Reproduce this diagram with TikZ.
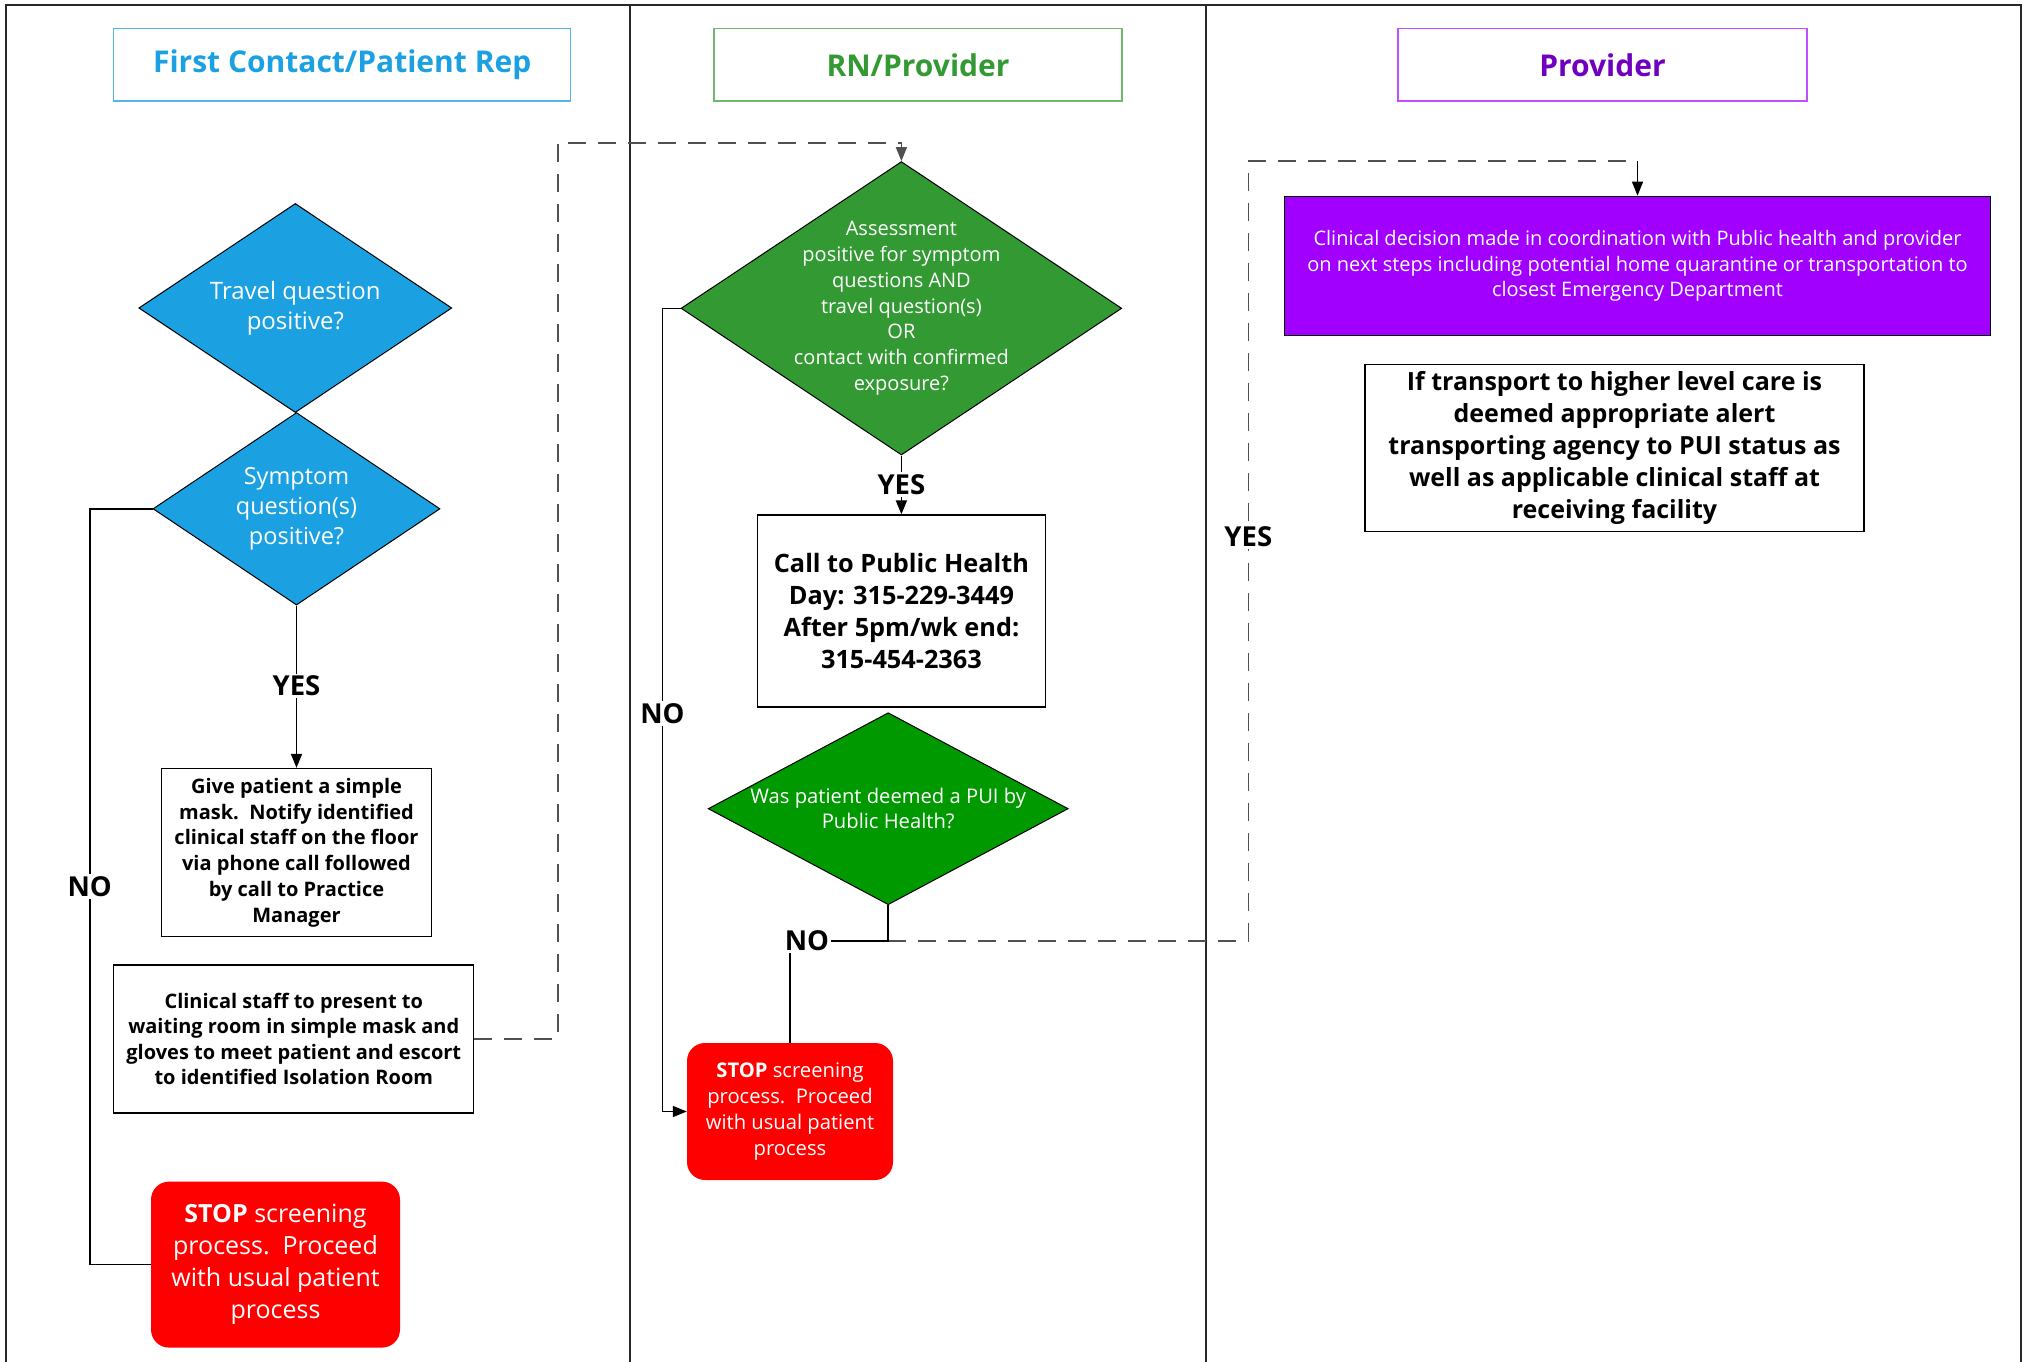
\documentclass[tikz,border=0pt]{standalone}
\usepackage{fontspec}
\setmainfont{Open Sans}
\usetikzlibrary{shapes.geometric,arrows.meta}
\definecolor{lblue}{RGB}{27,161,226}
\definecolor{lblueb}{RGB}{85,180,235}
\definecolor{dgreen}{RGB}{51,153,51}
\definecolor{dgreenb}{RGB}{110,185,110}
\definecolor{pgreen}{RGB}{0,153,0}
\definecolor{purp}{RGB}{161,0,255}
\definecolor{purpt}{RGB}{112,0,192}
\definecolor{purpb}{RGB}{192,80,255}
\definecolor{stopred}{RGB}{255,0,0}
\definecolor{dashgray}{RGB}{80,80,80}
\definecolor{framec}{RGB}{40,40,40}
\tikzset{
  hdr/.style={draw, line width=1.5pt, minimum height=72.4pt, inner sep=0pt,
    font=\bfseries\fontsize{30}{34}\selectfont},
  dia/.style={diamond, draw=black, line width=1pt, inner sep=0pt},
  dtext/.style={text=white, align=center, inner sep=0pt},
  box/.style={draw=black, line width=1.3pt, fill=white, inner sep=0pt, align=center},
  stopbox/.style={fill=stopred, rounded corners=18pt, inner sep=0pt, align=center,
    text=white},
  conn/.style={line width=1.6pt, black},
  dconn/.style={line width=1.6pt, dashgray, dash pattern=on 18pt off 12pt},
  arr/.style={-{Triangle[length=14pt,width=11pt]}},
  lbl/.style={fill=white, inner sep=2pt, font=\bfseries\fontsize{27.5}{30}\selectfont},
  lane/.style={line width=1.8pt, framec}
}
\begin{document}
\begin{tikzpicture}[x=1pt,y=-1pt]
\useasboundingbox (0,0) rectangle (2023,1362);
% frame and lanes
\draw[lane] (6,1362) -- (6,5) -- (2021,5) -- (2021,1362);
\draw[lane] (630,5) -- (630,1362);
\draw[lane] (1206,5) -- (1206,1362);

% headers
\node[hdr, draw=lblueb, text=lblue, minimum width=457pt] (h1) at (342.2,64.8) {First Contact/Patient Rep};
\node[hdr, draw=dgreenb, text=dgreen, minimum width=408pt] (h2) at (918,64.8) {RN/Provider};
\node[hdr, draw=purpb, text=purpt, minimum width=409pt] (h3) at (1602.5,64.8) {Provider};

% lane 1
\node[dia, fill=lblue, minimum width=313pt, minimum height=209pt] (travel) at (295.3,308) {};
\node[dtext, font=\fontsize{24}{30}\selectfont] (travelt) at (travel.center) {Travel question\\positive?};
\node[dia, fill=lblue, minimum width=287pt, minimum height=192.5pt] (sym) at (296.5,508.8) {};
\node[dtext, font=\fontsize{23.5}{30.3}\selectfont] (symt) at (sym.center) {Symptom\\question(s)\\positive?};
\node[box, minimum width=270pt, minimum height=168pt, font=\bfseries\fontsize{20}{25.8}\selectfont] (give) at (296.5,852.5)
  {Give patient a simple\\mask.\ \ Notify identified\\clinical staff on the floor\\via phone call followed\\by call to Practice\\Manager};
\node[box, minimum width=360pt, minimum height=148pt, font=\bfseries\fontsize{20}{25.3}\selectfont] (clin) at (293.8,1039)
  {Clinical staff to present to\\waiting room in simple mask and\\gloves to meet patient and escort\\to identified Isolation Room};
\node[stopbox, minimum width=249pt, minimum height=166pt, font=\fontsize{25}{32}\selectfont] (stop1) at (275.5,1264.6)
  {\textbf{STOP} screening\\process.\ \ Proceed\\with usual patient\\process};

% lane 2
\node[dia, fill=dgreen, minimum width=440.7pt, minimum height=293.4pt] (assess) at (901.4,308.3) {};
\node[dtext, font=\fontsize{20}{25.8}\selectfont] (assesst) at (assess.center)
  {Assessment\\positive for symptom\\questions AND\\travel question(s)\\OR\\contact with confirmed\\exposure?};
\node[box, minimum width=288pt, minimum height=192pt, font=\bfseries\fontsize{25.3}{32}\selectfont] (call) at (901.4,611)
  {Call to Public Health\\Day: 315-229-3449\\After 5pm/wk end:\\315-454-2363};
\node[dia, fill=pgreen, minimum width=360pt, minimum height=192pt] (pui) at (888.2,808.7) {};
\node[dtext, font=\fontsize{20.2}{25}\selectfont] (puit) at (pui.center) {Was patient deemed a PUI by\\Public Health?};
\node[stopbox, minimum width=206pt, minimum height=137pt, font=\fontsize{20.2}{25.8}\selectfont] (stop2) at (790,1111.5)
  {\textbf{STOP} screening\\process.\ \ Proceed\\with usual patient\\process};

% lane 3
\node[draw=black, line width=1.3pt, fill=purp, text=white, align=center, inner sep=0pt,
  minimum width=706pt, minimum height=139.3pt, font=\fontsize{20}{25.8}\selectfont] (clinical) at (1637.5,266)
  {Clinical decision made in coordination with Public health and provider\\on next steps including potential home quarantine or transportation to\\closest Emergency Department};
\node[box, minimum width=499pt, minimum height=166.6pt, font=\bfseries\fontsize{25}{32}\selectfont] (transport) at (1614.5,448)
  {If transport to higher level care is\\deemed appropriate alert\\transporting agency to PUI status as\\well as applicable clinical staff at\\receiving facility};

% helper coordinates
\coordinate (n1) at (89.7,508.8);
\coordinate (n2) at (662.4,308.3);
\coordinate (cno) at (790,941);
\coordinate (cpui) at (888.2,941);
\coordinate (d1) at (557.8,142.9);
\coordinate (d2) at (1248.3,160.7);

% connectors
\draw[conn, arr] (sym.south) -- (give.north);
\node[lbl] (yes1) at (296.5,686) {YES};
\draw[conn] (sym.west) -- (n1) |- (stop1.west);
\node[lbl] (no1) at (89.7,886.5) {NO};

\draw[conn, arr] (assess.south) -- (call.north);
\node[lbl] (yes2) at (901.4,484.5) {YES};
\draw[conn, arr] (assess.west) -- (n2) |- (stop2.west);
\node[lbl] (no2) at (662.4,713.5) {NO};

\draw[dconn, arr] (clin.east) -| (d1) -| (assess.north);
\draw[dconn] (cpui) -| (d2) -- (clinical.north |- d2);
\draw[line width=1.2pt, arr] (clinical.north |- d2) -- (clinical.north);
\draw[conn] (pui.south) -- (cpui) -- (cno) -- (stop2.north);
\node[lbl] (no3) at (807,941) {NO};
\node[lbl] (yes3) at (1248.3,537) {YES};
\end{tikzpicture}
\end{document}
